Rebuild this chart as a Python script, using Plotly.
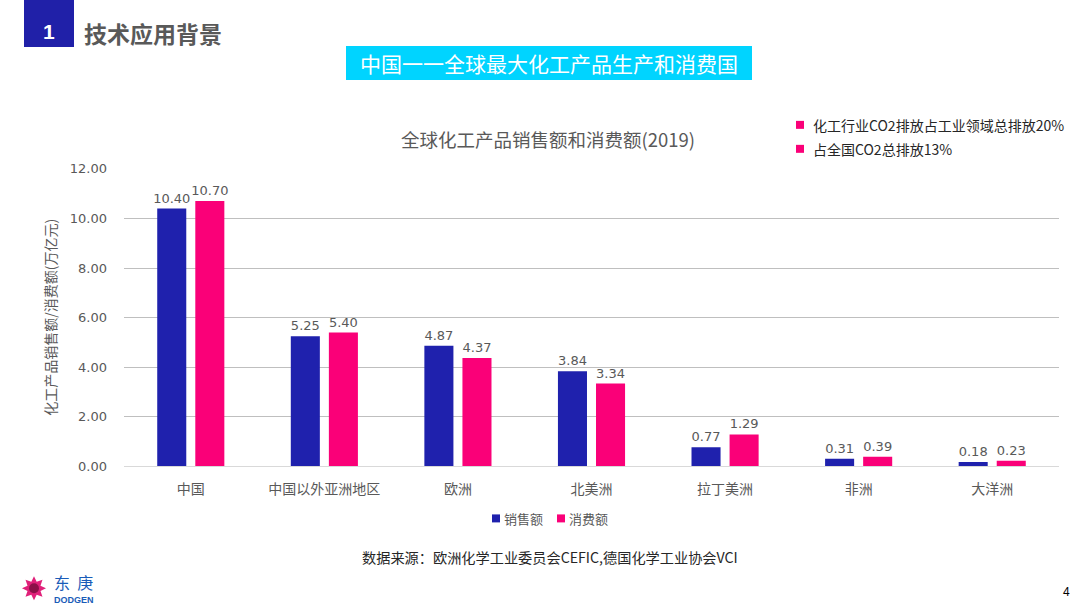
import math
import plotly.graph_objects as go

W, H = 1080, 609

categories = ["中国", "中国以外亚洲地区", "欧洲", "北美洲", "拉丁美洲", "非洲", "大洋洲"]
sales = [10.40, 5.25, 4.87, 3.84, 0.77, 0.31, 0.18]
consumption = [10.70, 5.40, 4.37, 3.34, 1.29, 0.39, 0.23]
series_names = ["销售额", "消费额"]
y_ticks = [0, 2, 4, 6, 8, 10, 12]

BLUE = "#1F21AD"
PINK = "#FA0078"
GRAY = "#595959"
CJK = "Noto Sans CJK SC"
NUM = "DejaVu Sans"

# measured vertical mapping of the capture: shown_y = 6 + 0.9765 * page_y
Y_OFF, Y_SCALE = 6.0, 0.9765


def px(x):
    return x / W


def py(y):
    yd = (y - Y_OFF) / Y_SCALE
    return 1 - yd / H


fig = go.Figure()
for name, vals, col in [(series_names[0], sales, BLUE), (series_names[1], consumption, PINK)]:
    fig.add_trace(go.Bar(
        x=categories, y=vals, name=name,
        marker=dict(color=col, line=dict(width=0)),
        text=[f"{v:.2f}" for v in vals], textposition="outside",
        textfont=dict(family=NUM, size=13, color=GRAY),
        constraintext="none", cliponaxis=False, showlegend=False,
    ))

shapes = []
annotations = []


def note(text, x, y, size, color, family=CJK, xanchor="center", **kw):
    annotations.append(dict(text=text, x=px(x), y=py(y), xref="paper", yref="paper", showarrow=False,
                            xanchor=xanchor, yanchor="middle", font=dict(family=family, size=size, color=color),
                            **kw))


# header box
shapes.append(dict(type="rect", xref="paper", yref="paper", x0=px(24), x1=px(74), y0=py(-2), y1=py(46),
                   fillcolor="#2020A8", line=dict(width=0), layer="above"))
note("<b>1</b>", 49, 31, 21, "white", family="Liberation Sans")
note("<b>技术应用背景</b>", 82, 32, 23, GRAY, xanchor="left")
# cyan banner
shapes.append(dict(type="rect", xref="paper", yref="paper", x0=px(346), x1=px(752), y0=py(45), y1=py(79),
                   fillcolor="#00D4FF", line=dict(width=0), layer="above"))
note("中国一一全球最大化工产品生产和消费国", 549, 62, 21, "white")
# chart title
note("全球化工产品销售额和消费额(2019)", 548, 138, 18.5, GRAY)
# top-right notes
for yy, txt in [(124, "化工行业CO2排放占工业领域总排放20%"), (148, "占全国CO2总排放13%")]:
    shapes.append(dict(type="rect", xref="paper", yref="paper", x0=px(796), x1=px(804), y0=py(yy - 4), y1=py(yy + 4),
                       fillcolor=PINK, line=dict(width=0)))
    note(txt, 811, yy, 14, "#262626", xanchor="left")
# y axis title
note("化工产品销售额/消费额(万亿元)", 50, 317, 14, GRAY, textangle=-90)
# bottom legend
for x0, name, col in [(492, series_names[0], BLUE), (557, series_names[1], PINK)]:
    shapes.append(dict(type="rect", xref="paper", yref="paper", x0=px(x0), x1=px(x0 + 8), y0=py(514), y1=py(522),
                       fillcolor=col, line=dict(width=0)))
    note(name, x0 + 10, 518, 13, GRAY, xanchor="left")
# source
note("数据来源：欧洲化学工业委员会CEFIC,德国化学工业协会VCI", 550, 557, 14.2, "#262626")
# page number
note("4", 1066, 592, 12, "#000000", family="Liberation Sans")

# logo (flower + text)
cx, cy = 34, 588
pts = []
for i in range(16):
    r = 12 if i % 2 == 0 else 7
    a = math.pi / 2 + i * math.pi / 8
    pts.append((cx + r * math.cos(a), cy - r * math.sin(a)))
path = "M " + " L ".join(f"{px(x):.5f},{py(y):.5f}" for x, y in pts) + " Z"
shapes.append(dict(type="path", xref="paper", yref="paper", path=path, fillcolor="#E0217A", line=dict(width=0)))
shapes.append(dict(type="circle", xref="paper", yref="paper", x0=px(cx - 5), x1=px(cx + 5), y0=py(cy - 5),
                   y1=py(cy + 5), fillcolor="#8C1048", line=dict(width=0)))
note("东  庚", 52, 582, 16, "#1A5CB8", xanchor="left")
note("<b>DODGEN</b>", 52, 600, 9, "#1A5CB8", family="Liberation Sans", xanchor="left")

fig.update_layout(
    width=W, height=H,
    margin=dict(l=0, r=0, t=0, b=0),
    paper_bgcolor="white", plot_bgcolor="white",
    barmode="group", bargap=0.43, bargroupgap=0.237,
    xaxis=dict(domain=[px(124), px(1059)], showgrid=False, showline=True, linecolor="#D9D9D9", linewidth=1,
               ticks="", tickfont=dict(family=CJK, size=14, color=GRAY), ticklabelstandoff=10,
               fixedrange=True),
    yaxis=dict(domain=[py(466), py(168)], range=[0, 12], tickvals=y_ticks,
               ticktext=[f"{v:.2f}" for v in y_ticks], showgrid=True, gridcolor="#BFBFBF", gridwidth=1,
               zeroline=False, showline=False, ticks="", ticklabelstandoff=16,
               tickfont=dict(family=NUM, size=13, color=GRAY)),
    shapes=shapes, annotations=annotations,
    showlegend=False,
)

fig.write_html("out.html")
